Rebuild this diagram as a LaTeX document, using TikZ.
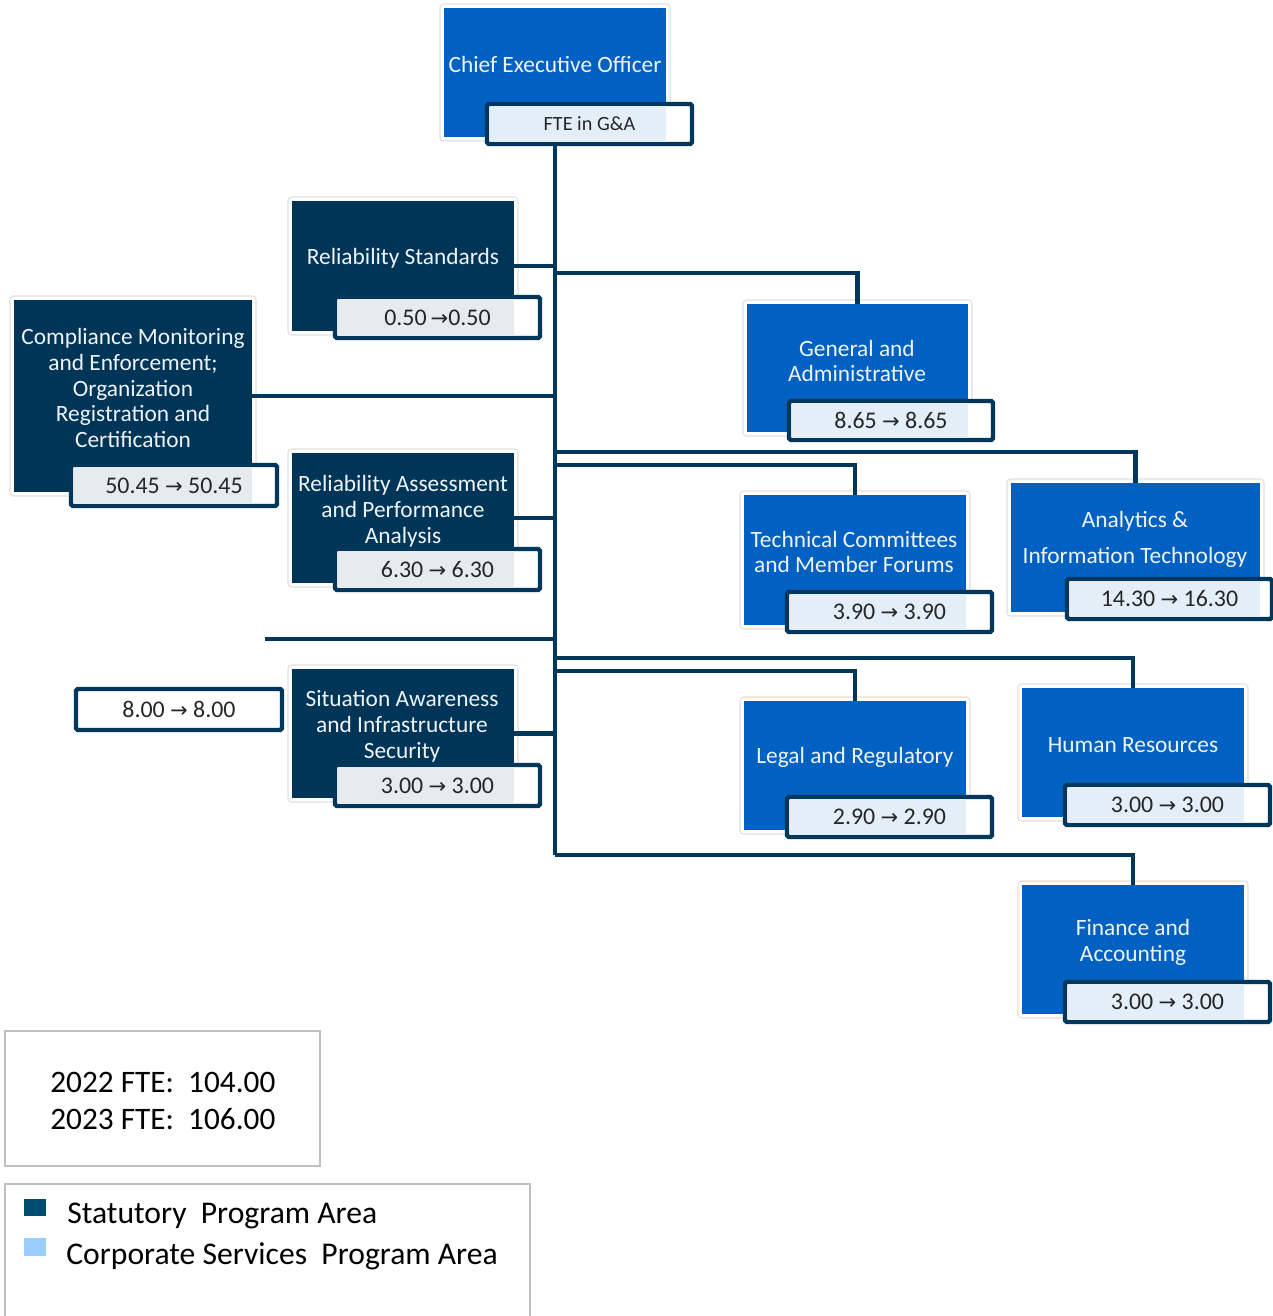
\documentclass[tikz,border=0pt]{standalone}
\usepackage{fontspec}
\setmainfont{Carlito}
\newfontfamily\arrowfont{DejaVu Sans}
\usetikzlibrary{fit,calc}
\definecolor{navy}{HTML}{003557}
\definecolor{linenavy}{HTML}{00375A}
\definecolor{corpblue}{HTML}{0061C2}
\definecolor{tintdark}{HTML}{E7EBEE}
\definecolor{tintblue}{HTML}{E4EEF9}
\definecolor{boxtxt}{HTML}{EEF3F8}
\definecolor{legstat}{HTML}{004B70}
\definecolor{legcorp}{HTML}{99CCFF}
\definecolor{framegray}{HTML}{BFBFBF}
\newcommand{\arr}{{\arrowfont\fontsize{12pt}{12pt}\selectfont →}}
\tikzset{
  dbox/.style={fill=navy, inner sep=0pt},
  bbox/.style={fill=corpblue, inner sep=0pt},
  vbox/.style={draw=linenavy, line width=2.5pt, fill=white, inner sep=0pt, rounded corners=1pt},
  halo/.style={draw=black!12, line width=0.6pt, rounded corners=2pt},
  btext/.style={text=boxtxt, align=center, font=\fontsize{13.3pt}{14.7pt}\selectfont, inner sep=0pt},
  vtext/.style={text=black!85, font=\fontsize{13.6pt}{14pt}\selectfont, inner sep=0pt},
  conn/.style={draw=linenavy, line width=2.3pt},
  frame/.style={draw=framegray, line width=1.1pt},
}
\begin{document}
\begin{tikzpicture}[x=0.02cm, y=-0.02cm]
\useasboundingbox (0,0) rectangle (1273,1316);

% ---------- halos ----------
\foreach \a/\b/\c/\d in {440/4/670/141, 288/197/518/335, 10/296/256/496, 743/300/972/436,
  288/449/518/587, 740/491/970/629, 1007/479/1264/616, 288/665/518/802, 740/697/970/834,
  1018/684/1248/821, 1018/881/1248/1018}
  \draw[halo, fill=white] (\a,\b) rectangle (\c,\d);

% ---------- boxes ----------
\node[bbox, fit={(444,8) (666,137)}] (ceo) {};
\node[dbox, fit={(292,201) (514,331)}] (rs) {};
\node[dbox, fit={(14,300) (252,492)}] (cm) {};
\node[bbox, fit={(747,304) (968,432)}] (ga) {};
\node[dbox, fit={(292,453) (514,583)}] (ra) {};
\node[bbox, fit={(744,495) (966,625)}] (tc) {};
\node[bbox, fit={(1011,483) (1260,612)}] (ait) {};
\node[dbox, fit={(292,669) (514,798)}] (sa) {};
\node[bbox, fit={(744,701) (966,830)}] (lr) {};
\node[bbox, fit={(1022,688) (1244,817)}] (hr) {};
\node[bbox, fit={(1022,885) (1244,1014)}] (fa) {};

% ---------- box texts ----------
\node[btext] (ceo-t) at (555,64) {Chief Executive Officer};
\node[btext] (rs-t) at (403,258) {Reliability Standards};
\node[btext] (cm-t) at (133,388) {Compliance Monitoring\\and Enforcement;\\Organization\\Registration and\\Certification};
\node[btext] (ga-t) at (857,361) {General and\\Administrative};
\node[btext] (ra-t) at (403,511) {Reliability Assessment\\and Performance\\Analysis};
\node[btext] (tc-t) at (854,552) {Technical Committees\\and Member Forums};
\node[btext, font=\fontsize{13.3pt}{20.4pt}\selectfont] (ait-t) at (1135,539) {Analytics \&\\Information Technology};
\node[btext] (sa-t) at (402,726) {Situation Awareness\\and Infrastructure\\Security};
\node[btext] (lr-t) at (855,757) {Legal and Regulatory};
\node[btext] (hr-t) at (1133,745) {Human Resources};
\node[btext] (fa-t) at (1133,942) {Finance and\\Accounting};

% ---------- value boxes ----------
\node[vbox, fit={(487,104) (692,144)}] (ceo-v) {};
\fill[tintblue] ($(ceo-v.north west)+(5,4)$) rectangle ($(ceo.east |- ceo-v.south)+(0,-4)$);
\node[vtext, font=\fontsize{11.5pt}{12pt}\selectfont] at (ceo-v.center) {FTE in G\&A};

\node[vbox, fit={(335,297) (540,338)}] (rs-v) {};
\fill[tintdark] ($(rs-v.north west)+(5,4)$) rectangle ($(rs.east |- rs-v.south)+(0,-4)$);
\node[vtext] at (rs-v.center) {0.50\,\arr0.50};

\node[vbox, fit={(71,465) (277,506)}] (cm-v) {};
\fill[tintdark] ($(cm-v.north west)+(5,4)$) rectangle ($(cm.east |- cm-v.south)+(0,-4)$);
\node[vtext] at (cm-v.center) {50.45 \arr\ 50.45};

\node[vbox, fit={(789,401) (993,440)}] (ga-v) {};
\fill[tintblue] ($(ga-v.north west)+(5,4)$) rectangle ($(ga.east |- ga-v.south)+(0,-4)$);
\node[vtext] at (ga-v.center) {8.65 \arr\ 8.65};

\node[vbox, fit={(335,549) (540,590)}] (ra-v) {};
\fill[tintdark] ($(ra-v.north west)+(5,4)$) rectangle ($(ra.east |- ra-v.south)+(0,-4)$);
\node[vtext] at (ra-v.center) {6.30 \arr\ 6.30};

\node[vbox, fit={(787,592) (992,632)}] (tc-v) {};
\fill[tintblue] ($(tc-v.north west)+(5,4)$) rectangle ($(tc.east |- tc-v.south)+(0,-4)$);
\node[vtext] at (tc-v.center) {3.90 \arr\ 3.90};

\node[vbox, fit={(1067,579) (1272,619)}] (ait-v) {};
\fill[tintblue] ($(ait-v.north west)+(5,4)$) rectangle ($(ait.east |- ait-v.south)+(0,-4)$);
\node[vtext] at (ait-v.center) {14.30 \arr\ 16.30};

\node[vbox, fit={(335,765) (540,806)}] (sa-v) {};
\fill[tintdark] ($(sa-v.north west)+(5,4)$) rectangle ($(sa.east |- sa-v.south)+(0,-4)$);
\node[vtext] at (sa-v.center) {3.00 \arr\ 3.00};

\node[vbox, fit={(76,689) (282,730)}] (ex-v) {};
\node[vtext] at (ex-v.center) {8.00 \arr\ 8.00};

\node[vbox, fit={(787,797) (992,837)}] (lr-v) {};
\fill[tintblue] ($(lr-v.north west)+(5,4)$) rectangle ($(lr.east |- lr-v.south)+(0,-4)$);
\node[vtext] at (lr-v.center) {2.90 \arr\ 2.90};

\node[vbox, fit={(1065,785) (1270,825)}] (hr-v) {};
\fill[tintblue] ($(hr-v.north west)+(5,4)$) rectangle ($(hr.east |- hr-v.south)+(0,-4)$);
\node[vtext] at (hr-v.center) {3.00 \arr\ 3.00};

\node[vbox, fit={(1065,982) (1270,1022)}] (fa-v) {};
\fill[tintblue] ($(fa-v.north west)+(5,4)$) rectangle ($(fa.east |- fa-v.south)+(0,-4)$);
\node[vtext] at (fa-v.center) {3.00 \arr\ 3.00};

% ---------- connectors ----------
\coordinate (trunkbot) at (555,855);
\coordinate (free) at (265,639);
\draw[conn] (ceo-v.south -| trunkbot) -- (trunkbot);
\draw[conn] (rs.east) -- (rs.east -| trunkbot);
\draw[conn] (ga.north) -- ++(0,-31) coordinate (ga-k) -- (ga-k -| trunkbot);
\draw[conn] (cm.east) -- (cm.east -| trunkbot);
\draw[conn] (ait.north) -- ++(0,-31) coordinate (ait-k) -- (ait-k -| trunkbot);
\draw[conn] (tc.north) -- ++(0,-30) coordinate (tc-k) -- (tc-k -| trunkbot);
\draw[conn] (ra.east) -- (ra.east -| trunkbot);
\draw[conn] (free) -- (free -| trunkbot);
\draw[conn] (sa.east) -- (sa.east -| trunkbot);
\draw[conn] (hr.north) -- ++(0,-30) coordinate (hr-k) -- (hr-k -| trunkbot);
\draw[conn] (lr.north) -- ++(0,-30) coordinate (lr-k) -- (lr-k -| trunkbot);
\draw[conn, line join=miter] (fa.north) -- ++(0,-30) coordinate (fa-k) -- (fa-k -| trunkbot);

% ---------- totals box ----------
\node[frame, fit={(5,1031) (320,1166)}, inner sep=0pt] (tot) {};
\node[anchor=west, inner sep=0pt, font=\fontsize{17.8pt}{21.5pt}\selectfont, align=left] (tot-t) at (50,1101)
  {2022 FTE:\ \ 104.00\\2023 FTE:\ \ 106.00};

% ---------- legend ----------
\node[frame, fit={(5,1184) (530,1325)}, inner sep=0pt] (leg) {};
\node[fill=legstat, inner sep=0pt, fit={(24,1199) (46,1216)}] (leg-s) {};
\node[fill=legcorp, inner sep=0pt, fit={(24,1238) (46,1256)}] (leg-c) {};
\node[anchor=west, inner sep=0pt, font=\fontsize{18pt}{19pt}\selectfont] (leg-st) at (67,1216) {Statutory\ \ Program Area};
\node[anchor=west, inner sep=0pt, font=\fontsize{18pt}{19pt}\selectfont] (leg-ct) at (66,1256) {Corporate Services\ \ Program Area};
\end{tikzpicture}
\end{document}
